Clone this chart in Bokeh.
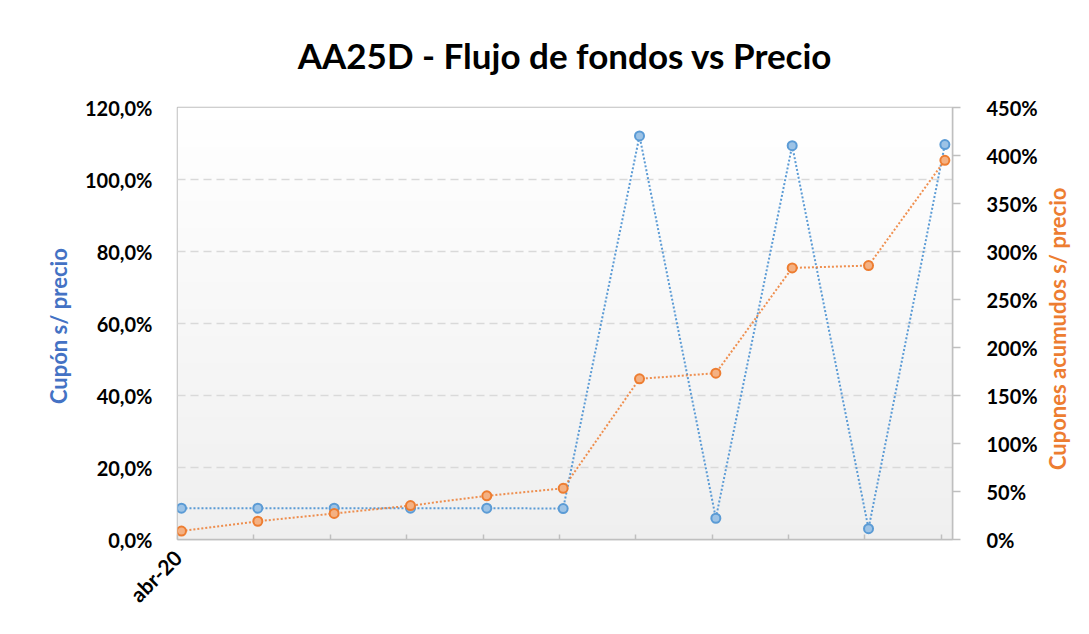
import numpy as np
from bokeh.plotting import figure
from bokeh.layouts import row
from bokeh.models import Range1d, LinearAxis, FixedTicker, CustomJSTickFormatter
from bokeh.embed import file_html
from bokeh.resources import INLINE

# ---- data ----
x_index = list(range(11))
x_tick_labels = ["abr-20", "", "", "", "", "", "", "", "", "", ""]
cupon_s_precio = [8.7, 8.7, 8.7, 8.7, 8.7, 8.6, 112.1, 5.9, 109.4, 3.0, 109.7]
cupones_acumulados = [8.8, 19.0, 27.1, 35.3, 45.5, 53.3, 167.4, 173.2, 282.9, 285.3, 395.0]
left_ticks = [0, 20, 40, 60, 80, 100, 120]
right_ticks = [0, 50, 100, 150, 200, 250, 300, 350, 400, 450]
right_title = ["Cupones  acumudos  s/ precio"]

FONT = "Lato"
BLUE = "#5B9BD5"
BLUE_FILL = "#9DC3E6"
ORANGE = "#ED7D31"
ORANGE_FILL = "#F4B183"
tick_offset = -0.05

W_MAIN, W_SIDE, H = 1040, 33, 618
x_start, x_end = -0.052, 10.10
y_start, y_end = 0, 120
frame_left, frame_right = 177, 957      # px
frame_top, frame_bottom = 103, 545      # px

p = figure(width=W_MAIN, height=H, output_backend="svg", toolbar_location=None,
           x_range=Range1d(x_start, x_end), y_range=Range1d(y_start, y_end),
           min_border_left=frame_left, min_border_right=W_MAIN - frame_right,
           min_border_top=frame_top, min_border_bottom=H - frame_bottom)
p.extra_y_ranges = {"right": Range1d(0, 450)}

# gradient background in plot frame
n = 256
grad = np.zeros((n, 1), dtype=np.uint32)
view = grad.view(dtype=np.uint8).reshape((n, 1, 4))
for i in range(n):
    t = i / (n - 1)  # 0 bottom -> 1 top
    c = int(round(239 + (255 - 239) * t))
    view[i, 0, :] = [c, c, c, 255]
p.image_rgba(image=[grad], x=x_start, y=y_start, dw=x_end - x_start, dh=y_end - y_start,
             level="image")

p.title.text = "AA25D - Flujo de fondos vs Precio"
p.title.text_font = FONT
p.title.text_font_size = "35px"
p.title.text_font_style = "bold"
p.title.text_color = "#000000"
p.title.align = "center"
p.title.offset = -8
p.title.standoff = 63

p.outline_line_color = "#BFBFBF"
p.outline_line_width = 1.5
p.background_fill_color = "#ffffff"
p.border_fill_color = "#ffffff"

# grid
p.xgrid.visible = False
p.ygrid.ticker = FixedTicker(ticks=left_ticks)
p.ygrid.grid_line_color = "#D9D9D9"
p.ygrid.grid_line_dash = "8 5"
p.ygrid.grid_line_width = 1.5

# left axis
yl = p.yaxis[0]
yl.ticker = FixedTicker(ticks=left_ticks)
yl.formatter = CustomJSTickFormatter(code="return tick.toFixed(1).replace('.', ',') + '%';")
yl.axis_line_color = None
yl.major_tick_line_color = None
yl.minor_tick_line_color = None
yl.major_label_text_font = FONT
yl.major_label_text_font_style = "bold"
yl.major_label_text_font_size = "20px"
yl.major_label_text_color = "#000000"
yl.major_label_standoff = 19
yl.axis_label = "Cupón  s/ precio"
yl.axis_label_text_font = FONT
yl.axis_label_text_font_style = "bold"
yl.axis_label_text_font_size = "22px"
yl.axis_label_text_color = "#4472C4"
yl.axis_label_standoff = 10

# right axis
yr = LinearAxis(y_range_name="right", ticker=FixedTicker(ticks=right_ticks))
yr.formatter = CustomJSTickFormatter(code="return tick.toFixed(0) + '%';")
yr.axis_line_color = "#BFBFBF"
yr.axis_line_width = 1.5
yr.major_tick_line_color = "#BFBFBF"
yr.major_tick_line_width = 1.5
yr.major_tick_in = 0
yr.major_tick_out = 8
yr.minor_tick_line_color = None
yr.major_label_text_font = FONT
yr.major_label_text_font_style = "bold"
yr.major_label_text_font_size = "20px"
yr.major_label_text_color = "#000000"
yr.major_label_standoff = 26
p.add_layout(yr, "right")

# bottom axis
xa = p.xaxis[0]
x_ticks = [i + tick_offset for i in x_index]
xa.ticker = FixedTicker(ticks=x_ticks)
xa.formatter = CustomJSTickFormatter(args=dict(labels=x_tick_labels, off=tick_offset),
                                     code="const i = Math.round(tick - off); return labels[i] || '';")
xa.axis_line_color = "#BFBFBF"
xa.axis_line_width = 1.5
xa.major_tick_line_color = "#BFBFBF"
xa.major_tick_line_width = 1.5
xa.major_tick_in = 5
xa.major_tick_out = 0
xa.minor_tick_line_color = None
xa.major_label_orientation = np.pi / 4
xa.major_label_text_font = FONT
xa.major_label_text_font_style = "bold"
xa.major_label_text_font_size = "21px"
xa.major_label_text_color = "#000000"
xa.major_label_standoff = 14

# series
p.line(x_index, cupon_s_precio, line_color=BLUE, line_width=2, line_dash="2 2")
p.scatter(x_index, cupon_s_precio, size=9, fill_color=BLUE_FILL, line_color=BLUE, line_width=2)
p.line(x_index, cupones_acumulados, y_range_name="right", line_color=ORANGE, line_width=2,
       line_dash="2 2", line_alpha=0.85)
p.scatter(x_index, cupones_acumulados, y_range_name="right", size=9, fill_color=ORANGE_FILL,
          line_color=ORANGE, line_width=2)

# side panel holding the right axis title (reads bottom-to-top, centred on the frame)
side_top = 2 * ((frame_top + frame_bottom) // 2) - H
s = figure(width=W_SIDE, height=H, output_backend="svg", toolbar_location=None,
           x_range=Range1d(-1, 1), y_range=Range1d(-1, 1),
           x_axis_location=None, y_axis_location=None,
           min_border_left=0, min_border_right=0, min_border_top=side_top, min_border_bottom=0)
s.xgrid.visible = False
s.ygrid.visible = False
s.outline_line_color = None
s.background_fill_color = "#ffffff"
s.border_fill_color = "#ffffff"
s.text(x=[0], y=[0], text=right_title, angle=np.pi / 2, text_align="center",
       text_baseline="middle", text_font={"value": FONT}, text_font_style="bold",
       text_font_size="22px", text_color=ORANGE)

layout = row(p, s, spacing=0)
open("out.html", "w").write(file_html(layout, INLINE))
